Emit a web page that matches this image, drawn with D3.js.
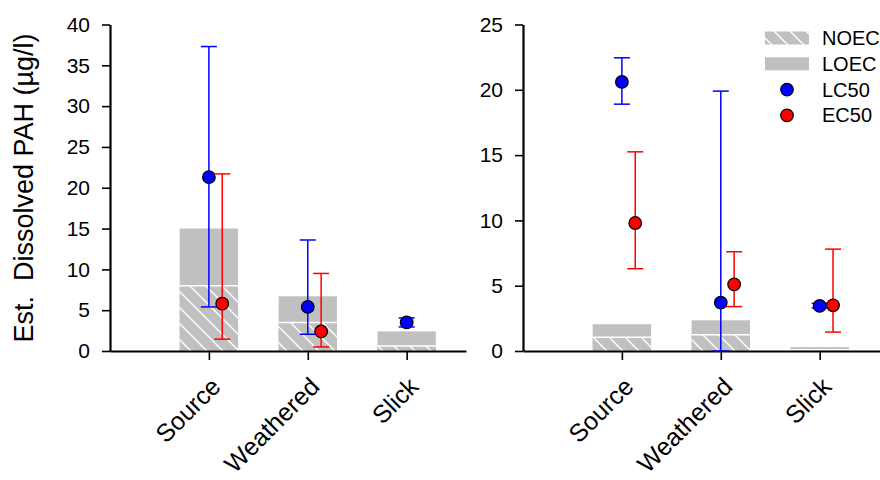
<!DOCTYPE html>
<html>
<head>
<meta charset="utf-8">
<script src="https://cdn.jsdelivr.net/npm/d3@7"></script>
<style>
  body { margin: 0; background: #fff; }
  svg { display: block; font-family: Arial, "Liberation Sans", sans-serif; }
</style>
</head>
<body>
<svg id="chart" width="880" height="480"></svg>
<script>
// Categories and tick labels
const categories = ['Source', 'Weathered', 'Slick'];
const leftTicks = [0, 5, 10, 15, 20, 25, 30, 35, 40];
const rightTicks = [0, 5, 10, 15, 20, 25];

// Left panel values
const leftNoec = [8.0, 3.5, 0.6];
const leftLoec = [15.0, 6.7, 2.4];
const leftLc50 = [21.3, 5.4, 3.5];
const leftLc50Lo = [5.4, 2.05, 2.95];
const leftLc50Hi = [37.3, 13.6, 4.05];
const leftEc50 = [5.8, 2.4, null];
const leftEc50Lo = [1.45, 0.5, null];
const leftEc50Hi = [21.7, 9.5, null];

// Right panel values
const rightNoec = [1.05, 1.25, 0.1];
const rightLoec = [2.05, 2.35, 0.3];
const rightLc50 = [20.6, 3.7, 3.45];
const rightLc50Lo = [18.9, 0, 3.3];
const rightLc50Hi = [22.45, 19.9, 3.65];
const rightEc50 = [9.8, 5.1, 3.5];
const rightEc50Lo = [6.3, 3.4, 1.45];
const rightEc50Hi = [15.25, 7.6, 7.8];

const legendItems = ['NOEC', 'LOEC', 'LC50', 'EC50'];

const GREY = '#c0c0c0';
const BLUE = '#0000ff';
const RED = '#ff0000';

const svg = d3.select('#chart');

// Hatch pattern for NOEC bars
const defs = svg.append('defs');
const pat = defs.append('pattern')
  .attr('id', 'hatch')
  .attr('patternUnits', 'userSpaceOnUse')
  .attr('width', 16)
  .attr('height', 16);
pat.append('rect').attr('width', 16).attr('height', 16).attr('fill', GREY);
pat.append('path')
  .attr('d', 'M0,0 L16,16 M-4,12 L4,20 M12,-4 L20,4')
  .attr('stroke', '#fff')
  .attr('stroke-width', 1.4);

const plotTop = 24.5, plotBottom = 351;

function drawPanel(cfg) {
  const x = d3.scaleLinear().domain([0, cfg.xMax]).range([cfg.x0, cfg.x1]);
  const y = d3.scaleLinear().domain([0, cfg.yMax]).range([plotBottom, plotTop]);
  const g = svg.append('g');
  const halfBar = 0.295;
  const off = 0.135;

  // bars: LOEC then NOEC on top
  g.selectAll('.loec').data(cfg.loec).enter().append('rect')
    .attr('x', (d, i) => x(i + 1 - halfBar))
    .attr('width', (d, i) => x(i + 1 + halfBar) - x(i + 1 - halfBar))
    .attr('y', d => y(d))
    .attr('height', d => y(0) - y(d))
    .attr('fill', GREY);
  g.selectAll('.noec').data(cfg.noec).enter().append('rect')
    .attr('x', (d, i) => x(i + 1 - halfBar))
    .attr('width', (d, i) => x(i + 1 + halfBar) - x(i + 1 - halfBar))
    .attr('y', d => y(d))
    .attr('height', d => y(0) - y(d))
    .attr('fill', 'url(#hatch)');
  g.selectAll('.noecTop').data(cfg.noec).enter().append('line')
    .attr('x1', (d, i) => x(i + 1 - halfBar))
    .attr('x2', (d, i) => x(i + 1 + halfBar))
    .attr('y1', d => y(d))
    .attr('y2', d => y(d))
    .attr('stroke', '#fff')
    .attr('stroke-width', 1.5);

  // axes
  const yAxis = d3.axisLeft(y).tickValues(cfg.ticks).tickSize(8).tickSizeOuter(0).tickPadding(12);
  const ya = g.append('g').attr('transform', `translate(${cfg.x0},0)`).call(yAxis);
  const xAxis = d3.axisBottom(x).tickValues([1, 2, 3]).tickFormat('').tickSize(9).tickSizeOuter(0);
  const xa = g.append('g').attr('transform', `translate(0,${plotBottom})`).call(xAxis);
  [ya, xa].forEach(a => {
    a.select('.domain').attr('stroke', '#000').attr('stroke-width', 2.2);
    a.selectAll('.tick line').attr('stroke', '#000').attr('stroke-width', 1.6);
  });
  ya.selectAll('.tick text')
    .attr('font-size', 21)
    .attr('font-family', 'Arial, "Liberation Sans", sans-serif')
    .attr('fill', '#000');

  // category labels
  g.selectAll('.cat').data(categories).enter().append('text')
    .attr('transform', (d, i) => `translate(${x(i + 1) + 7},${382}) rotate(-45)`)
    .attr('text-anchor', 'end')
    .attr('dy', '0.35em')
    .attr('font-size', 25)
    .text(d => d);

  // series: error bars then points
  const series = [
    { v: cfg.lc50, lo: cfg.lc50Lo, hi: cfg.lc50Hi, dx: 0, color: BLUE },
    { v: cfg.ec50, lo: cfg.ec50Lo, hi: cfg.ec50Hi, dx: off, color: RED }
  ];
  series.forEach(s => {
    const pts = s.v.map((v, i) => ({ v, lo: s.lo[i], hi: s.hi[i], cx: x(i + 1 + s.dx) }))
      .filter(p => p.v !== null);
    const eb = g.append('g').attr('stroke', s.color).attr('stroke-width', 1.5);
    pts.forEach(p => {
      eb.append('line').attr('x1', p.cx).attr('x2', p.cx).attr('y1', y(p.lo)).attr('y2', y(p.hi));
      [p.lo, p.hi].forEach(c => {
        eb.append('line').attr('x1', p.cx - 8).attr('x2', p.cx + 8).attr('y1', y(c)).attr('y2', y(c));
      });
    });
    g.selectAll(null).data(pts).enter().append('circle')
      .attr('cx', p => p.cx)
      .attr('cy', p => y(p.v))
      .attr('r', 6.3)
      .attr('fill', s.color)
      .attr('stroke', '#000')
      .attr('stroke-width', 1.2);
  });
}

drawPanel({
  x0: 110, x1: 466, xMax: 3.6, yMax: 40, ticks: leftTicks,
  noec: leftNoec, loec: leftLoec,
  lc50: leftLc50, lc50Lo: leftLc50Lo, lc50Hi: leftLc50Hi,
  ec50: leftEc50, ec50Lo: leftEc50Lo, ec50Hi: leftEc50Hi
});

drawPanel({
  x0: 523, x1: 880, xMax: 3.61, yMax: 25, ticks: rightTicks,
  noec: rightNoec, loec: rightLoec,
  lc50: rightLc50, lc50Lo: rightLc50Lo, lc50Hi: rightLc50Hi,
  ec50: rightEc50, ec50Lo: rightEc50Lo, ec50Hi: rightEc50Hi
});

// y axis title
svg.append('text')
  .attr('transform', 'translate(33,188) rotate(-90)')
  .attr('text-anchor', 'middle')
  .attr('font-size', 27)
  .style('white-space', 'pre')
  .text('Est.  Dissolved PAH (\u00b5g/l)');

// legend
const legend = svg.append('g').attr('transform', 'translate(765,38)');
legendItems.forEach((name, i) => {
  const row = legend.append('g').attr('transform', `translate(0,${i * 25.8})`);
  if (i === 0) {
    row.append('rect').attr('x', 0).attr('y', -6.5).attr('width', 44).attr('height', 13).attr('fill', 'url(#hatch)');
  } else if (i === 1) {
    row.append('rect').attr('x', 0).attr('y', -6.5).attr('width', 44).attr('height', 13).attr('fill', GREY);
  } else {
    row.append('circle').attr('cx', 22).attr('cy', 0).attr('r', 6.3)
      .attr('fill', i === 2 ? BLUE : RED).attr('stroke', '#000').attr('stroke-width', 1.2);
  }
  row.append('text')
    .attr('x', 57)
    .attr('y', 7)
    .attr('font-size', 20)
    .text(name);
});
</script>
</body>
</html>
